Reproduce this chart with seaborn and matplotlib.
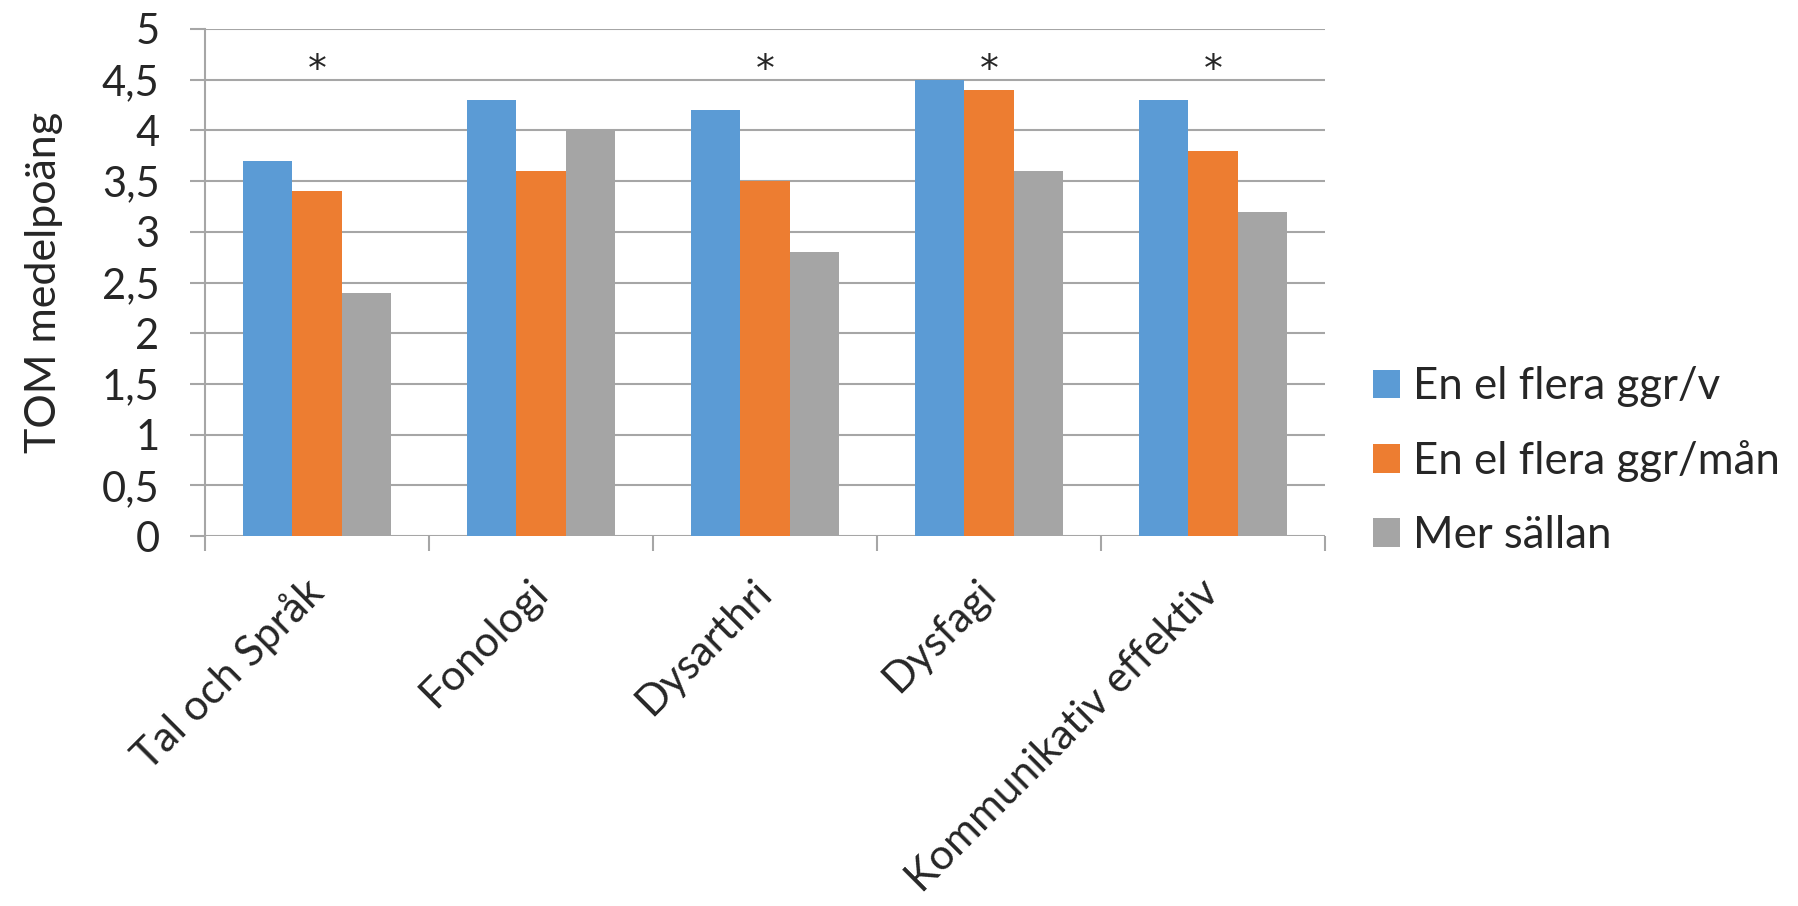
import numpy as np
import pandas as pd
import seaborn as sns
import matplotlib.pyplot as plt
from matplotlib.patches import Patch

categories = ['Tal och Språk', 'Fonologi', 'Dysarthri', 'Dysfagi', 'Kommunikativ effektiv']
series = ['En el flera ggr/v', 'En el flera ggr/mån', 'Mer sällan']
per_week = [3.7, 4.3, 4.2, 4.5, 4.3]
per_month = [3.4, 3.6, 3.5, 4.4, 3.8]
rarely = [2.4, 4.0, 2.8, 3.6, 3.2]
significant = [True, False, True, True, True]
colors = ['#5B9BD5', '#ED7D31', '#A5A5A5']
ytick_vals = np.arange(0, 5.01, 0.5)
ytick_labels = ['0', '0,5', '1', '1,5', '2', '2,5', '3', '3,5', '4', '4,5', '5']

df = pd.DataFrame({
    'kategori': categories * 3,
    'grupp': [series[0]] * 5 + [series[1]] * 5 + [series[2]] * 5,
    'poang': per_week + per_month + rarely,
})

sns.set_style('white')
plt.rcParams['font.family'] = ['Lato', 'DejaVu Sans']
grid_c = '#a6a6a6'

fig = plt.figure(figsize=(17.99, 9.06), dpi=100)
ax = fig.add_axes([205 / 1799, 1 - 536 / 906, 1120 / 1799, 507 / 906])

sns.barplot(data=df, x='kategori', y='poang', hue='grupp', hue_order=series,
            palette=colors, saturation=1, width=0.665, gap=0, linewidth=0,
            legend=False, ax=ax)

ax.set_xlim(-0.5, 4.5)
ax.set_ylim(0, 5)
ax.set_yticks(ytick_vals)
ax.set_yticklabels(ytick_labels)
ax.yaxis.grid(True, color=grid_c, linewidth=1.5)
ax.set_axisbelow(True)
for s in ['top', 'right', 'bottom']:
    ax.spines[s].set_visible(False)
ax.spines['left'].set_color(grid_c)
ax.spines['left'].set_linewidth(1.5)

ax.tick_params(axis='y', which='major', direction='out', length=10.8, width=1.5,
               color=grid_c, labelsize=30, pad=22, left=True)
ax.set_xticks(np.arange(-0.5, 4.6, 1), minor=True)
ax.tick_params(axis='x', which='minor', direction='out', length=10.5, width=1.5,
               color=grid_c, bottom=True)
ax.tick_params(axis='x', which='major', length=0, labelsize=30.5, pad=36)
ax.set_xticks(range(5))
ax.set_xticklabels(categories, rotation=45, ha='right', va='center',
                   rotation_mode='anchor')
ax.set_xlabel('')
ax.set_ylabel('TOM medelpoäng', fontsize=31)
ax.yaxis.set_label_coords(-0.127, 0.5)

for i, sig in enumerate(significant):
    if sig:
        ax.text(i, 4.59, '*', ha='center', va='center', fontsize=27,
                family='DejaVu Sans')

handles = [Patch(facecolor=c, edgecolor='none') for c in colors]
fig.legend(handles, series, loc='center left', bbox_to_anchor=(1373 / 1799, 1 - 461 / 906),
           frameon=False, fontsize=31.5, handlelength=0.62, handleheight=0.62,
           handletextpad=0.3, labelspacing=0.75, borderpad=0, borderaxespad=0)

fig.savefig('out.png', dpi=100, facecolor='white')
